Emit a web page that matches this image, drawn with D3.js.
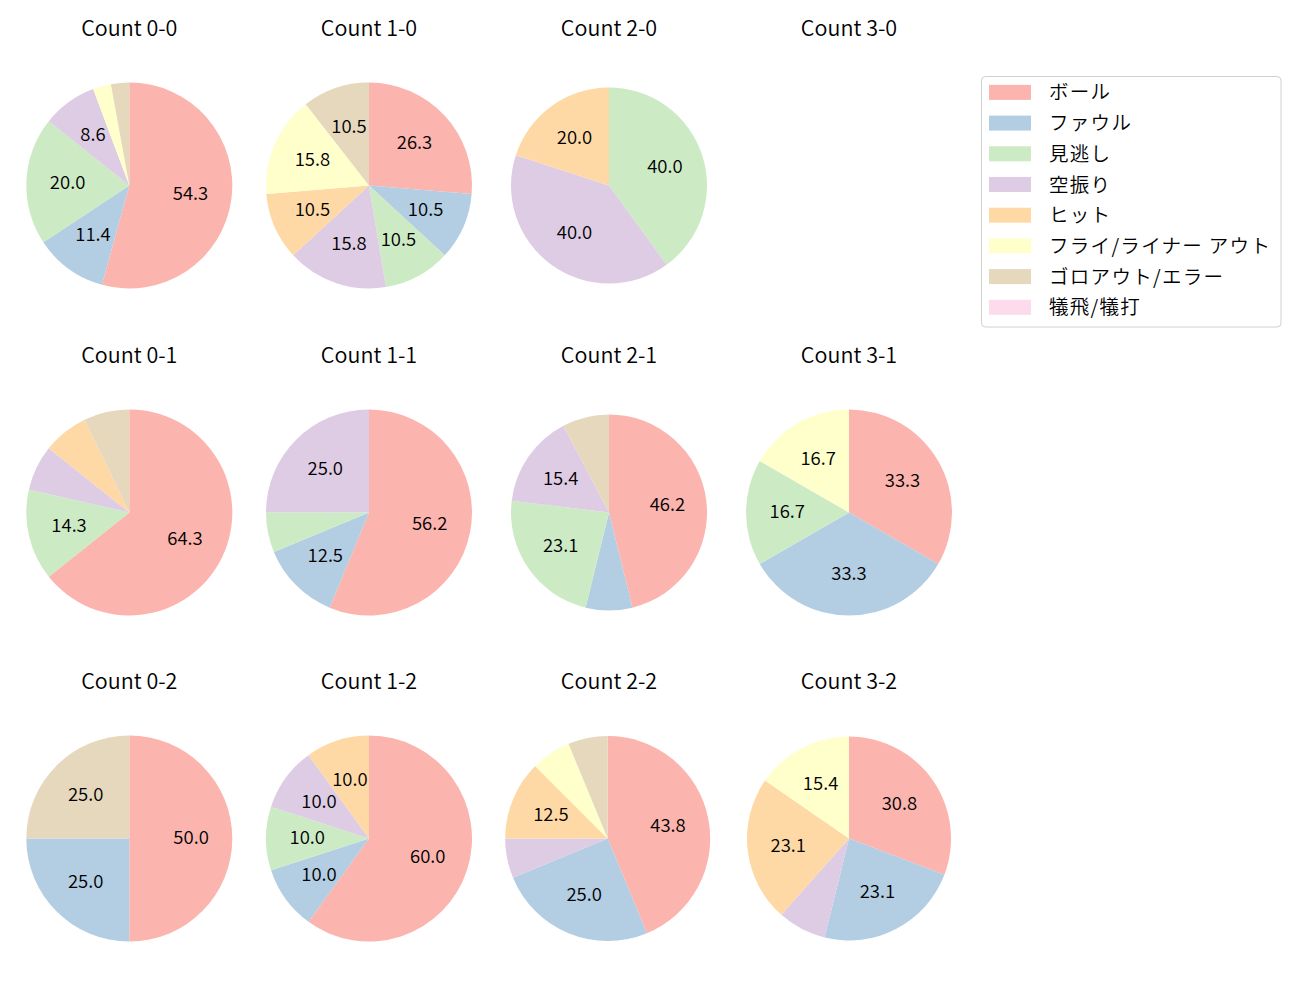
<!DOCTYPE html>
<html><head><meta charset="utf-8">
<script src="https://cdn.jsdelivr.net/npm/d3@7"></script>
<style>
html,body{margin:0;padding:0;background:#fff;}
text{font-family:"Noto Sans CJK JP","Noto Sans",sans-serif;fill:#000;font-weight:350;}
</style></head>
<body><svg id="chart" width="1300" height="1000"></svg>
<script>
// ---- data ----
const categories = ["ボール","ファウル","見逃し","空振り","ヒット","フライ/ライナー アウト","ゴロアウト/エラー","犠飛/犠打"];
const countLabels = ["0-0","1-0","2-0","3-0","0-1","1-1","2-1","3-1","0-2","1-2","2-2","3-2"];
const c00 = [19,4,7,3,0,1,1,0];
const c10 = [5,2,2,3,2,3,2,0];
const c20 = [0,0,2,2,1,0,0,0];
const c30 = [0,0,0,0,0,0,0,0];
const c01 = [9,0,2,1,1,0,1,0];
const c11 = [9,2,1,4,0,0,0,0];
const c21 = [6,1,3,2,0,0,1,0];
const c31 = [2,2,1,0,0,1,0,0];
const c02 = [2,1,0,0,0,0,1,0];
const c12 = [6,1,1,1,1,0,0,0];
const c22 = [7,4,0,1,2,1,1,0];
const c32 = [4,3,0,1,3,2,0,0];
const seriesByCount = [c00,c10,c20,c30,c01,c11,c21,c31,c02,c12,c22,c32];
const labelThreshold = 8; // percent; smaller slices are unlabeled

// ---- layout ----
const colors = ["#fbb4ae","#b3cde3","#ccebc5","#decbe4","#fed9a6","#ffffcc","#e5d8bd","#fddaec"];
const colX = [129.3, 369, 609, 849];
const rowY = [185.5, 512.5, 838.5];
const radii = [103,103,98,103, 103,103,98,103, 103,103,102.5,102];
const xAdj = [0,0,0,0, 0,0,0,0, 0,0,-1.3,0];

const svg = d3.select("#chart");
const color = d3.scaleOrdinal().domain(categories).range(colors);

function fmt(p){ // python-like %1.1f (round half to even)
  const x = p*10; const f = Math.floor(x); const d = x - f;
  let n = d > 0.5 ? f+1 : d < 0.5 ? f : (f % 2 === 0 ? f : f+1);
  return (n/10).toFixed(1);
}

const pie = d3.pie().sort(null).value(d => d.v).startAngle(0).endAngle(2*Math.PI);

seriesByCount.forEach((vals, i) => {
  const col = i % 4, row = Math.floor(i / 4);
  const cx = colX[col] + xAdj[i], cy = rowY[row], r = radii[i];
  const g = svg.append("g");
  g.append("text").attr("x", colX[col]).attr("y", cy - 150).attr("text-anchor","middle")
    .style("font-size","21.5px").text("Count " + countLabels[i]);
  const total = d3.sum(vals);
  if (total === 0) return;
  const data = vals.map((v,k) => ({v, cat: categories[k]}));
  const arcs = pie(data).filter(a => a.data.v > 0);
  const arc = d3.arc().innerRadius(0).outerRadius(r);
  const pg = g.append("g").attr("transform", `translate(${cx},${cy})`);
  pg.selectAll("path").data(arcs).join("path")
    .attr("d", arc).attr("fill", d => color(d.data.cat));
  const lab = d3.arc().innerRadius(r*0.6).outerRadius(r*0.6);
  pg.selectAll("text").data(arcs.filter(a => 100*a.data.v/total > labelThreshold)).join("text")
    .attr("x", d => lab.centroid(d)[0])
    .attr("y", d => lab.centroid(d)[1] + 5.8)
    .attr("text-anchor","middle").style("font-size","18.5px")
    .text(d => fmt(100*d.data.v/total));
});

// ---- legend ----
const lg = svg.append("g");
lg.append("rect").attr("x",981.5).attr("y",76.5).attr("width",299.5).attr("height",250.5)
  .attr("rx",4).attr("fill","#fff").attr("fill-opacity",0.8).attr("stroke","#d0d0d0").attr("stroke-width",1);
const ly = d3.scalePoint().domain(categories).range([92.4, 307.3]);
categories.forEach(c => {
  lg.append("rect").attr("x",989).attr("y",ly(c)-7.5).attr("width",42).attr("height",15).attr("fill",color(c));
  lg.append("text").attr("x",1049).attr("y",ly(c)+7).style("font-size","19.5px")
    .style("letter-spacing","1.3px").text(c);
});
</script></body></html>
